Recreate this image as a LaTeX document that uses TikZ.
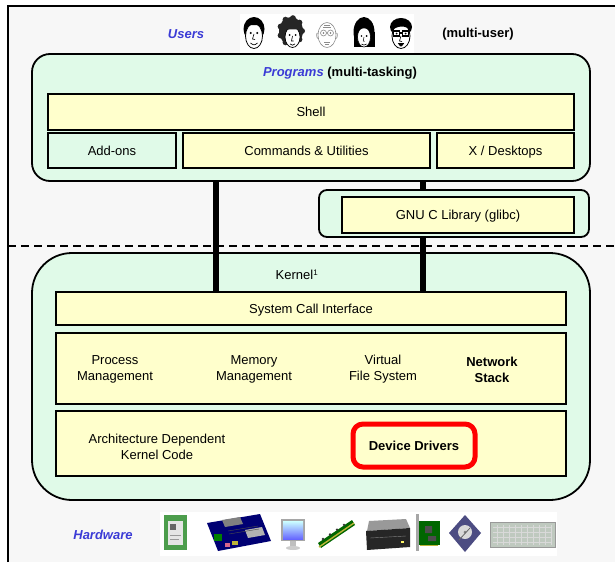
\documentclass[tikz,border=0pt]{standalone}
\usepackage{fontspec}
\setmainfont{Liberation Sans}
\usepackage{xcolor}
\usepackage{tikz}
\definecolor{paper}{HTML}{F7F7F7}
\definecolor{mint}{HTML}{E0FAE8}
\definecolor{cream}{HTML}{FFFFCC}
\definecolor{ink}{HTML}{3B3BD6}
\definecolor{alert}{HTML}{FF0000}
\tikzset{
  frame/.style={line width=2pt, draw=black},
  outer/.style={draw=black, line width=1.8pt, fill=mint, inner sep=0pt},
  layer/.style={draw=black, line width=1.6pt, fill=cream, inner sep=0pt, text height=10.5pt, text depth=1.5pt,
                font=\fontsize{13}{16}\selectfont},
  layerm/.style={layer, fill=mint},
  bus/.style={line width=6pt, draw=black},
  sep/.style={line width=1.8pt, draw=black, dash pattern=on 8pt off 5pt},
  lab/.style={font=\fontsize{13}{16}\selectfont, align=center},
  labb/.style={font=\fontsize{13}{16}\selectfont\bfseries, align=center},
  labu/.style={font=\fontsize{13}{16}\selectfont\bfseries\itshape, text=ink},
  hw/.style={line width=0.4pt}
}

\begin{document}
\begin{tikzpicture}[x=1pt, y=-1pt]
  \useasboundingbox (0,0) rectangle (615,562);
  \fill[white] (0,0) rectangle (615,562);
  \fill[paper] (8,6) rectangle (615,562);
  \draw[frame] (8,562) -- (8,6) -- (615,6);

  % user space
  \node[labu] (users) at (186,34) {Users};
  \node[labb] (multi) at (478,34) {(multi-user)};
  \fill[white] (240,14) rectangle (414,53);

  \begin{scope}[shift={(254,33)}]
    \fill[black] (0,-4) ellipse (10.5 and 12);
    \draw[line width=0.8pt, fill=white] (0,3) ellipse (8.5 and 12.5);
    \fill[black] (-10,-5) .. controls (-7,-17) and (7,-17) .. (10,-5) .. controls (5,-9) and (-5,-9) .. cycle;
    \fill (-3.3,0) circle (1.1) (3.3,0) circle (1.1);
    \draw[line width=0.6pt] (0,1) -- (-1.5,6) -- (1,6.5);
    \draw[line width=0.7pt] (-3.5,10) .. controls (0,12.5) .. (3.5,10);
  \end{scope}

  \begin{scope}[shift={(291,33)}]
    \fill[black!85] (0,-2) ellipse (12 and 14);
    \foreach \a in {0,40,...,320}
      \fill[black!85] ({11*cos(\a)},{-2+13*sin(\a)}) circle (3);
    \draw[line width=0.7pt, fill=white] (1.5,4) ellipse (7.5 and 10.5);
    \fill[black!85] (-7,-4) .. controls (-2,-2) and (4,-6) .. (9,-2) -- (9,-10) -- (-7,-10) -- cycle;
    \fill (-1.5,2) circle (1) (4.5,2) circle (1);
    \draw[line width=0.6pt] (1.5,3) -- (0.5,8) -- (2.5,8);
    \draw[line width=0.7pt] (-1,11) .. controls (1.5,12.5) .. (4,11);
  \end{scope}

  \begin{scope}[shift={(327,33)}, draw=black!45, line width=0.6pt]
    \draw[fill=white] (0,2) ellipse (9 and 12.5);
    \draw (-9,0) .. controls (-11,-1) and (-11,5) .. (-8.5,6);
    \draw (9,0) .. controls (11,-1) and (11,5) .. (8.5,6);
    \draw (-3.5,0) circle (3) (3.5,0) circle (3) (-0.5,0) -- (0.5,0);
    \fill[black!55] (-3.5,0) circle (0.9) (3.5,0) circle (0.9);
    \draw (-4,-6) -- (4,-6) (-3,-8) -- (3,-8);
    \draw (-3,9) -- (3,9) (-2,11) -- (2,11);
  \end{scope}

  \begin{scope}[shift={(364,33)}]
    \fill[black] (0,-1) ellipse (10.5 and 15);
    \fill[black] (-10.5,-1) rectangle (10.5,14);
    \draw[line width=0.6pt, fill=white] (0,4) ellipse (6.5 and 10);
    \fill[black] (-7,2) .. controls (-5,-7) and (5,-7) .. (7,2) -- (7,-8) -- (-7,-8) -- cycle;
    \fill (-2.6,3) circle (0.9) (2.6,3) circle (0.9);
    \draw[line width=0.5pt] (0,4) -- (-0.8,8) -- (0.6,8.3);
    \draw[line width=0.6pt] (-2.5,11) .. controls (0,12.5) .. (2.5,11);
  \end{scope}

  \begin{scope}[shift={(401,33)}]
    \fill[black] (0,-6) ellipse (11 and 9);
    \draw[line width=0.8pt, fill=white] (0,3) ellipse (9 and 12.5);
    \fill[black] (-10,-2) .. controls (-8,-16) and (8,-16) .. (10,-2) .. controls (4,-9) and (-4,-7) .. cycle;
    \draw[line width=1.4pt] (-7.5,-2) rectangle (-1.5,3) (1.5,-2) rectangle (7.5,3) (-1.5,0) -- (1.5,0);
    \fill (-4.5,0.5) circle (1) (4.5,0.5) circle (1);
    \draw[line width=0.6pt] (0,3) -- (-1.5,8) -- (1,8.5);
    \draw[line width=0.7pt, fill=black] (-2.5,10.5) .. controls (0,14) .. (2.5,10.5) -- cycle;
  \end{scope}

  \node[outer, rounded corners=18pt, minimum width=558, minimum height=127] (prog) at (311,117.5) {};
  \node[lab] (progT) at (340,73) {\bfseries\textcolor{ink}{\itshape Programs} (multi-tasking)};
  \node[layer, minimum width=526, minimum height=36] (shell) at (311,112) {Shell};
  \node[layerm, minimum width=128, minimum height=35] (addons) at (112,150.5) {Add-ons};
  \node[layer, minimum width=247, minimum height=35] (cmds) at (306.5,150.5) {Commands \& Utilities};
  \node[layer, minimum width=137, minimum height=35] (xdesk) at (505.5,150.5) {X / Desktops};

  % kernel space
  \node[outer, rounded corners=40pt, minimum width=558, minimum height=247] (kernel) at (311,376.5) {};
  \node[lab] (kernT) at (297,275) {Kernel\textsuperscript{\fontsize{8}{8}\selectfont 1}};
  \node[layer, minimum width=510, minimum height=33] (sci) at (311,308.5) {System Call Interface};
  \node[layer, minimum width=510, minimum height=71] (core) at (311,368.5) {};
  \node[lab] (proc) at (115,369) {Process\\Management};
  \node[lab] (mem) at (254,369) {Memory\\Management};
  \node[lab] (vfs) at (383,369) {Virtual\\File System};
  \node[labb] (net) at (492,370) {Network\\Stack};
  \node[layer, minimum width=510, minimum height=65] (arch) at (311,443.5) {};
  \node[lab] (archT) at (157,447) {Architecture Dependent\\Kernel Code};
  \node[layer, draw=alert, line width=5pt, rounded corners=10pt, minimum width=122, minimum height=43,
        font=\fontsize{13}{16}\selectfont\bfseries] (drv) at (414,445.5) {Device Drivers};

  % system call paths
  \coordinate (busA) at (216,0);
  \coordinate (busB) at (423,0);
  \draw[bus] (prog.south -| busA) -- (sci.north -| busA);
  \draw[bus] (prog.south -| busB) -- (sci.north -| busB);

  \node[outer, rounded corners=8pt, minimum width=270, minimum height=47] (libc) at (454,213.5) {};
  \node[layer, minimum width=232, minimum height=36] (glibc) at (458,215) {GNU C Library (glibc)};

  \coordinate (sepL) at (8,246);
  \coordinate (sepR) at (615,246);
  \draw[sep] (sepL) -- (sepR);

  % hardware
  \node[labu] (hw) at (103,535) {Hardware};
  \fill[white] (160,512) rectangle (557,556);
  % cpu
  \fill[green!45!black!70] (164,515) rectangle (187,550);
  \fill[black!10] (168,521) rectangle (183,545);
  \fill[black!60] (170,524) rectangle (176,530);
  \draw[black!40, hw] (170,535) -- (181,535) (170,539) -- (179,539);
  % mainboard
  \fill[blue!45!black] (207,523) -- (260,514) -- (271,541) -- (218,551) -- cycle;
  \fill[black!50] (222,520) -- (240,517) -- (243,524) -- (225,527) -- cycle;
  \fill[black!30] (245,530) -- (262,527) -- (265,535) -- (248,538) -- cycle;
  \fill[green!50!black] (214,534) rectangle (222,541);
  \fill[yellow!70!black] (232,541) rectangle (238,545);
  \fill[purple!60] (225,543) rectangle (230,547);
  \draw[black!70, hw] (228,531) -- (258,526) (229,534) -- (259,529);
  % monitor
  \fill[black!35] (281,519) rectangle (305,541);
  \shade[top color=cyan!20, bottom color=blue!60] (283,521) rectangle (303,539);
  \fill[black!25] (290,541) rectangle (296,546);
  \fill[black!20] (293,548) ellipse (7 and 2);
  % memory
  \fill[green!40!black] (318,543) -- (352,520) -- (355,525) -- (321,548) -- cycle;
  \draw[yellow!70!black, line width=1.4pt] (319,547) -- (354,523);
  \foreach \k in {0,1,2,3}
    \fill[black!80] ({323+7*\k},{539-4.7*\k}) circle (1.3);
  % optical drive
  \fill[black!40] (369,521) -- (406,519) -- (410,528) -- (367,531) -- cycle;
  \fill[black!85] (366,531) -- (410,528) -- (410,547) -- (367,550) -- cycle;
  \draw[black!50, hw] (370,538) -- (406,536);
  \fill[yellow!60] (401,541) rectangle (404,543);
  % expansion card
  \fill[black!35] (416,514) rectangle (419,551);
  \fill[green!40!black] (419,521) rectangle (440,545);
  \fill[black!70] (425,526) rectangle (432,533) (428,536) rectangle (436,541);
  \draw[yellow!70!black, hw] (420,545) -- (438,545);
  % hard disk
  \fill[blue!30!black!70] (465,515) -- (481,533) -- (465,552) -- (449,533) -- cycle;
  \fill[black!15] (465,532) circle (7);
  \fill[black!50] (465,532) circle (1.5);
  \draw[black!60, line width=0.8pt] (459,540) -- (470,528);
  % keyboard
  \fill[green!15!black!25] (490,522) rectangle (555,547);
  \draw[black!40, hw] (490,522) rectangle (555,547);
  \foreach \r in {527,532,537,542}
    \draw[black!15, hw] (493,\r) -- (552,\r);
  \foreach \c in {497,503,...,551}
    \draw[black!15, hw] (\c,525) -- (\c,545);
\end{tikzpicture}
\end{document}
